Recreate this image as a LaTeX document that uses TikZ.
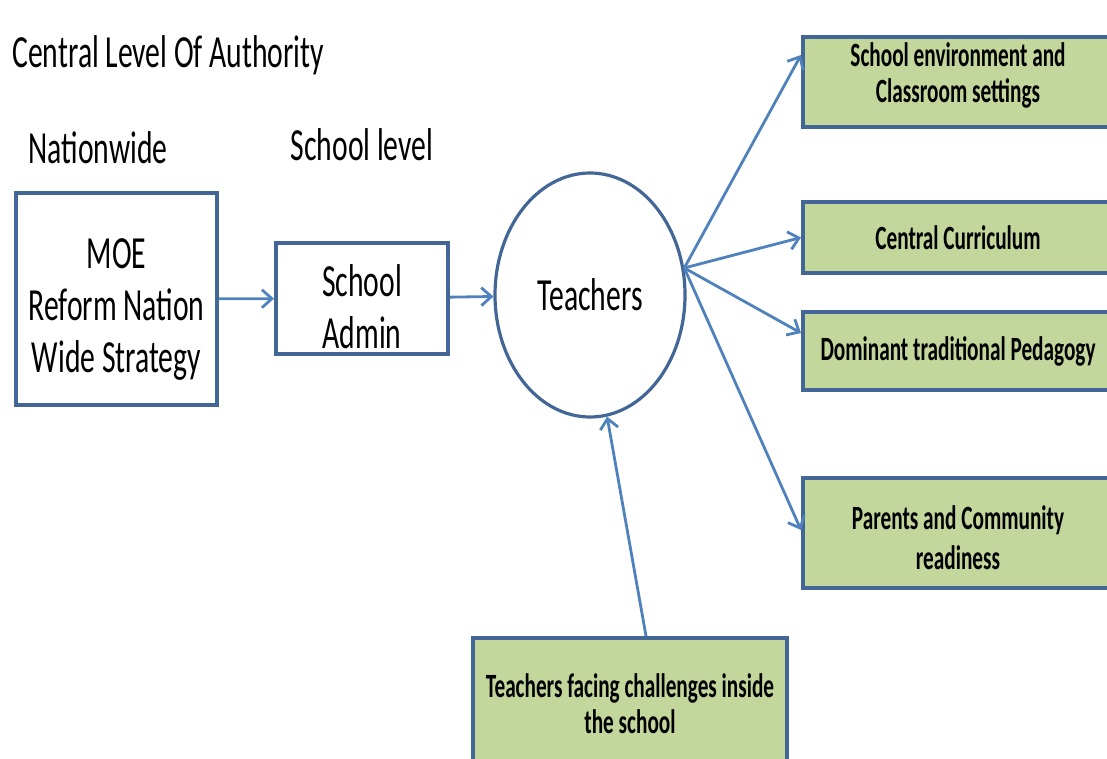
\documentclass[tikz,border=0pt]{standalone}
\usepackage{fontspec}
\setmainfont[FakeStretch=0.645]{Carlito}
\newfontfamily\gfont[FakeStretch=0.625]{Carlito}
\usetikzlibrary{arrows.meta,shapes.geometric}
\definecolor{edgeblue}{RGB}{66,103,150}
\definecolor{arrowblue}{RGB}{79,129,189}
\definecolor{boxgreen}{RGB}{195,214,155}

\begin{document}
\begin{tikzpicture}[x=0.5pt,y=-0.5pt,>={Straight Barb[length=5pt,width=9pt]},
  big/.style={font=\fontsize{23}{26.5}\selectfont,inner sep=0},
  plainbox/.style={draw=edgeblue,line width=2pt,align=center,inner sep=0,font=\fontsize{23}{26}\selectfont},
  gbox/.style={draw=edgeblue,line width=2pt,fill=boxgreen,align=center,inner sep=0,
    font=\gfont\bfseries\fontsize{17}{18}\selectfont},
  link/.style={->,draw=arrowblue,line width=1.4pt}]
  \clip (0,0) rectangle (1107,759);
  % headings
  \node[big,anchor=west] (title) at (12,55) {Central Level Of Authority};
  \node[big] (nation) at (98,148) {Nationwide};
  \node[big] (schlevel) at (362,145) {School level};
  % main chain (struts push the text a bit lower in the boxes)
  \node[plainbox,minimum width=100.5pt,minimum height=106pt] (moe) at (116.5,299) {\rule{0pt}{25pt}MOE\\Reform Nation\\Wide Strategy};
  \node[plainbox,minimum width=86pt,minimum height=55.5pt] (admin) at (362,298.5) {\rule{0pt}{24pt}School\\Admin};
  \node[ellipse,draw=edgeblue,line width=1.6pt,minimum width=95pt,minimum height=122pt,inner sep=0,
    font=\fontsize{23}{26}\selectfont] (teach) at (590,295) {Teachers};
  \draw[link] (moe) -- (admin);
  \draw[link] (admin) -- (teach);
  % influences on the teachers
  \foreach \n/\y/\h/\t in {g1/82/45/{School environment and\\Classroom settings\rule[-9pt]{0pt}{0pt}},
                           g2/237.5/35.5/{Central Curriculum},
                           g3/351/39/{Dominant traditional Pedagogy},
                           g4/533/55/{\rule{0pt}{17pt}Parents and Community\\[2pt]readiness}}
    \node[gbox,minimum width=155pt,minimum height=\h pt] (\n) at (958,\y) {\t};
  \coordinate (hub) at (teach.16);
  \foreach \n/\s in {g1/13.5,g2/0,g3/9,g4/1.5}
    \draw[link] (hub) -- ([yshift=\s pt]\n.west);
  \node[gbox,minimum width=157pt,minimum height=66pt] (inside) at (630,704) {Teachers facing challenges inside\\the school};
  \draw[link] ([xshift=8pt]inside.north) -- (teach.-82);
\end{tikzpicture}
\end{document}
